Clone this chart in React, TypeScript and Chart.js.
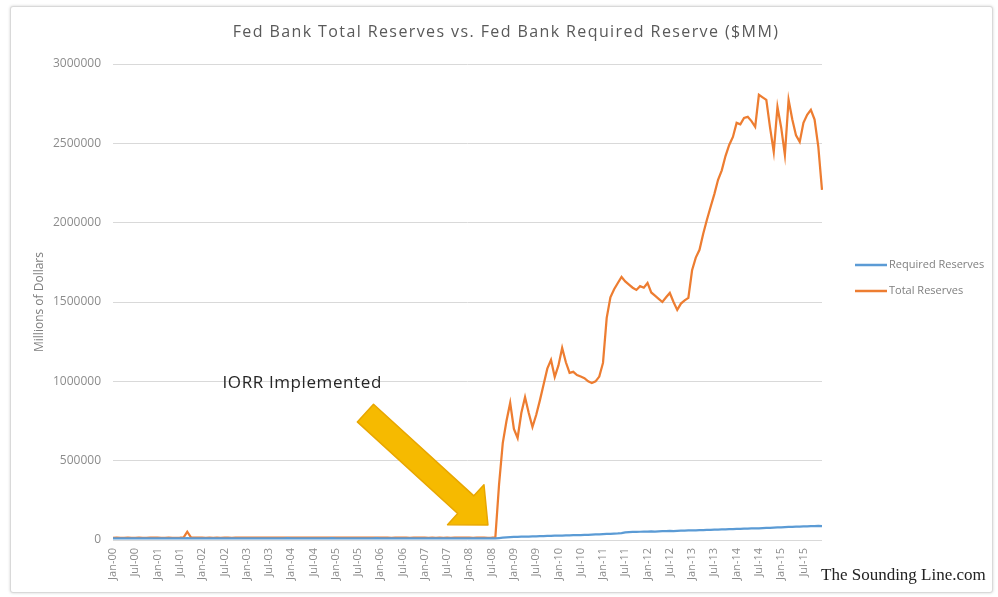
import React, { useEffect, useRef } from 'react';
import { Chart, registerables } from 'chart.js';

Chart.register(...registerables);

const MONTHS = ['Jan', 'Feb', 'Mar', 'Apr', 'May', 'Jun', 'Jul', 'Aug', 'Sep', 'Oct', 'Nov', 'Dec'];
const YEARS = ['00', '01', '02', '03', '04', '05', '06', '07', '08', '09', '10', '11', '12', '13', '14', '15'];
const LABELS = YEARS.flatMap((y) => MONTHS.map((m) => `${m}-${y}`));
const TICK_MONTHS = ['Jan', 'Jul'];

const TITLE = 'Fed Bank Total Reserves vs. Fed Bank Required Reserve ($MM)';
const Y_TITLE = 'Millions of Dollars';
const WATERMARK = 'The Sounding Line.com';
const ANNOTATION_TEXT = 'IORR Implemented';
const ANNOTATION_AT = { index: 29.5, value: 990000 };
const ARROW_TAIL = { index: 68, value: 800000 };
const ARROW_TIP = { index: 101, value: 95000 };

// Monthly, Jan-2000 .. Dec-2015 (millions of dollars)
const REQUIRED_RESERVES = [
  10000, 10200, 9800, 10000, 10100, 9900, 10000, 10200, 9800, 10000, 10400, 10300,
  10100, 9800, 9900, 10200, 9800, 10000, 10300, 10800, 12000, 11000, 10500, 10400,
  10300, 9900, 10100, 9800, 10200, 10000, 10400, 10100, 9900, 10300, 10600, 10900,
  10600, 10200, 10400, 10100, 10500, 10300, 10700, 10400, 10200, 10600, 10800, 11200,
  10800, 10400, 10600, 10300, 10700, 10500, 10900, 10600, 10400, 10800, 11000, 11400,
  10800, 10300, 10500, 10200, 10600, 10400, 10700, 10300, 10100, 10500, 10700, 11100,
  10600, 10100, 10300, 10000, 10400, 10200, 10500, 10100, 9900, 10300, 10500, 10900,
  10400, 9900, 10100, 9800, 10200, 10000, 10300, 9900, 10500, 10100, 10300, 10800,
  10300, 9900, 10400, 10100, 10200, 10000, 10200, 10500, 12500, 14500, 16500, 18500,
  19000, 20000, 21000, 21500, 22000, 23000, 23500, 24000, 24500, 25500, 26000, 27000,
  27500, 28000, 29000, 29500, 30000, 31000, 31500, 32500, 33000, 34000, 35000, 36000,
  37000, 38000, 39000, 40000, 41000, 43000, 48000, 50000, 51000, 50500, 52000, 52500,
  53500, 54000, 53000, 55000, 55500, 56000, 57000, 56500, 58000, 58500, 59000, 60000,
  60500, 61000, 62000, 62500, 63500, 64000, 65000, 65500, 66500, 67000, 68000, 69000,
  69500, 70000, 71000, 72000, 72500, 73500, 74000, 75000, 76000, 76500, 78000, 79000,
  80000, 81000, 82000, 83000, 84000, 85000, 86000, 86500, 88000, 87000, 89000, 88000,
];

const TOTAL_RESERVES = [
  14000, 14500, 13500, 14000, 14200, 13800, 14000, 14300, 13600, 14100, 15000, 14600,
  14200, 13800, 14000, 14300, 13900, 14100, 14400, 15500, 52000, 16500, 15200, 14800,
  14500, 14000, 14200, 13900, 14300, 14100, 14600, 14200, 14000, 14400, 14800, 15200,
  14800, 14300, 14500, 14200, 14700, 14400, 14900, 14500, 14300, 14800, 15000, 15400,
  15000, 14600, 14800, 14500, 14900, 14700, 15100, 14800, 14600, 15000, 15200, 15600,
  15000, 14500, 14700, 14400, 14800, 14600, 14900, 14500, 14300, 14700, 14900, 15300,
  14800, 14200, 14400, 14100, 14500, 14300, 14600, 14200, 14000, 14400, 14600, 15000,
  14500, 14000, 14200, 13900, 14300, 14100, 14400, 14000, 14800, 14200, 14400, 15200,
  14500, 14000, 14600, 14200, 14400, 14100, 14300, 15500, 350000, 611000, 750000, 864000,
  700000, 643000, 800000, 900000, 800000, 712000, 788000, 880000, 980000, 1080000, 1135000, 1028000,
  1100000, 1210000, 1120000, 1053000, 1060000, 1040000, 1030000, 1020000, 1000000, 990000, 1000000, 1030000,
  1116000, 1400000, 1530000, 1580000, 1620000, 1658000, 1630000, 1610000, 1590000, 1576000, 1600000, 1590000,
  1620000, 1560000, 1540000, 1520000, 1500000, 1530000, 1557000, 1500000, 1450000, 1490000, 1510000, 1526000,
  1700000, 1780000, 1829000, 1930000, 2018000, 2100000, 2180000, 2270000, 2330000, 2420000, 2490000, 2540000,
  2629000, 2620000, 2660000, 2667000, 2640000, 2604000, 2806000, 2790000, 2774000, 2600000, 2446000, 2730000,
  2600000, 2427000, 2774000, 2650000, 2550000, 2509000, 2629000, 2680000, 2711000, 2650000, 2480000, 2207000,
];

const BLUE = '#5B9BD5';
const ORANGE = '#ED7D31';
const FONT = "'Open Sans', 'Noto Sans', sans-serif";

const overlayPlugin = {
  id: 'overlay',
  afterDraw(chart: any) {
    const ctx = chart.ctx;
    const xs = chart.scales.x;
    const ys = chart.scales.y;
    const area = chart.chartArea;
    ctx.save();

    // title
    ctx.fillStyle = '#595959';
    ctx.font = `16px ${FONT}`;
    ctx.textAlign = 'center';
    ctx.textBaseline = 'middle';
    (ctx as any).letterSpacing = '1.4px';
    ctx.fillText(TITLE, 506, 32);
    (ctx as any).letterSpacing = '0px';

    // arrow
    const tx = xs.getPixelForValue(ARROW_TAIL.index);
    const ty = ys.getPixelForValue(ARROW_TAIL.value);
    const px = xs.getPixelForValue(ARROW_TIP.index);
    const py = ys.getPixelForValue(ARROW_TIP.value);
    const len = Math.hypot(px - tx, py - ty);
    const dx = (px - tx) / len;
    const dy = (py - ty) / len;
    const nx = -dy;
    const ny = dx;
    const shaft = 12;
    const headW = 27;
    const headL = 30;
    const bx = px - dx * headL;
    const by = py - dy * headL;
    ctx.beginPath();
    ctx.moveTo(tx + nx * shaft, ty + ny * shaft);
    ctx.lineTo(bx + nx * shaft, by + ny * shaft);
    ctx.lineTo(bx + nx * headW, by + ny * headW);
    ctx.lineTo(px, py);
    ctx.lineTo(bx - nx * headW, by - ny * headW);
    ctx.lineTo(bx - nx * shaft, by - ny * shaft);
    ctx.lineTo(tx - nx * shaft, ty - ny * shaft);
    ctx.closePath();
    ctx.fillStyle = '#F6BA00';
    ctx.fill();
    ctx.strokeStyle = '#E8A600';
    ctx.lineWidth = 1.5;
    ctx.lineJoin = 'round';
    ctx.stroke();

    // annotation text
    ctx.fillStyle = '#262626';
    ctx.font = `17px ${FONT}`;
    ctx.textAlign = 'left';
    ctx.textBaseline = 'middle';
    (ctx as any).letterSpacing = '0.6px';
    ctx.fillText(ANNOTATION_TEXT, xs.getPixelForValue(ANNOTATION_AT.index), ys.getPixelForValue(ANNOTATION_AT.value));
    (ctx as any).letterSpacing = '0px';

    // legend
    const lx = area.right + 33;
    chart.data.datasets.forEach((ds: any, i: number) => {
      const ly = 265 + i * 26;
      ctx.strokeStyle = ds.borderColor;
      ctx.lineWidth = 2.5;
      ctx.beginPath();
      ctx.moveTo(lx, ly);
      ctx.lineTo(lx + 32, ly);
      ctx.stroke();
      ctx.fillStyle = '#7F7F7F';
      ctx.font = `11px ${FONT}`;
      ctx.textAlign = 'left';
      ctx.textBaseline = 'middle';
      ctx.fillText(ds.label, lx + 34, ly);
    });

    // watermark
    ctx.fillStyle = '#222222';
    ctx.font = `17px 'Liberation Serif', serif`;
    ctx.textAlign = 'left';
    ctx.textBaseline = 'middle';
    ctx.fillText(WATERMARK, area.right - 1, 576);

    ctx.restore();
  },
};

export default function App() {
  const canvasRef = useRef<HTMLCanvasElement | null>(null);

  useEffect(() => {
    const canvas = canvasRef.current;
    if (!canvas) return;
    const chart = new Chart(canvas, {
      type: 'line',
      data: {
        labels: LABELS,
        datasets: [
          {
            label: 'Required Reserves',
            data: REQUIRED_RESERVES,
            borderColor: BLUE,
            backgroundColor: BLUE,
            borderWidth: 2.25,
            pointRadius: 0,
            tension: 0,
          },
          {
            label: 'Total Reserves',
            data: TOTAL_RESERVES,
            borderColor: ORANGE,
            backgroundColor: ORANGE,
            borderWidth: 2.25,
            pointRadius: 0,
            tension: 0,
          },
        ],
      },
      options: {
        animation: false,
        responsive: false,
        maintainAspectRatio: false,
        devicePixelRatio: 1,
        layout: { padding: { left: 0, right: 176, top: 64, bottom: 0 } },
        plugins: {
          legend: { display: false },
          tooltip: { enabled: false },
          title: { display: false },
        },
        scales: {
          x: {
            type: 'category',
            offset: false,
            grid: { display: false, drawTicks: false },
            border: { display: false },
            afterFit: (scale: any) => {
              scale.height = 57;
            },
            ticks: {
              autoSkip: false,
              minRotation: 90,
              maxRotation: 90,
              padding: 8,
              color: '#8C8C8C',
              font: { family: FONT, size: 11 },
              callback: (_v: any, i: number) => {
                const lab = LABELS[i];
                return TICK_MONTHS.includes(lab.slice(0, 3)) ? lab : '';
              },
            },
          },
          y: {
            min: 0,
            max: 3000000,
            grid: { color: '#D9D9D9', lineWidth: 1, drawTicks: false },
            border: { display: false },
            afterFit: (scale: any) => {
              scale.width = 113;
            },
            title: {
              display: true,
              text: Y_TITLE,
              color: '#7F7F7F',
              font: { family: FONT, size: 12 },
              padding: { top: 32, bottom: 0 },
            },
            ticks: {
              stepSize: 500000,
              padding: 12,
              color: '#8C8C8C',
              font: { family: FONT, size: 12 },
              callback: (v: any) => String(v),
            },
          },
        },
      },
      plugins: [overlayPlugin],
    });
    return () => chart.destroy();
  }, []);

  return (
    <div style={{ position: 'fixed', left: 0, top: 0, width: 998, height: 597, background: '#ffffff' }}>
      <div
        style={{
          position: 'absolute',
          left: 10,
          top: 6,
          width: 981,
          height: 585,
          border: '1px solid #D9D9D9',
          borderRadius: 3,
          boxShadow: '0 0 3px rgba(0,0,0,0.18)',
          background: '#ffffff',
        }}
      />
      <canvas
        ref={canvasRef}
        width={998}
        height={597}
        style={{ position: 'absolute', left: 0, top: 0, width: 998, height: 597 }}
      />
    </div>
  );
}
